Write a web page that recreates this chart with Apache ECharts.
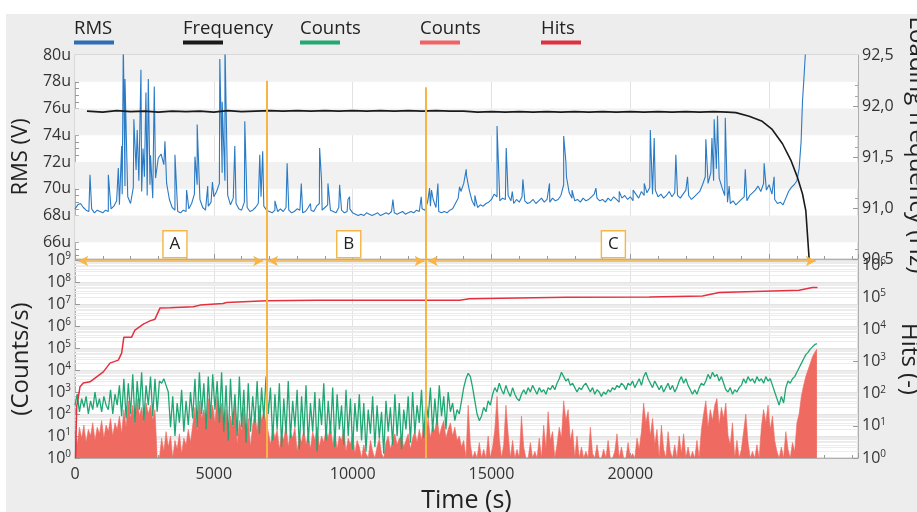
<!DOCTYPE html>
<html><head><meta charset="utf-8">
<script src="https://cdn.jsdelivr.net/npm/echarts@6/dist/echarts.min.js"></script>
<style>html,body{margin:0;padding:0;background:#fff}#c{width:917px;height:512px}</style>
</head><body><div id="c"></div>
<script>
// ---------------- DATA ----------------
const xMax = 28200;
const xTickLabels = [0, 5000, 10000, 15000, 20000, 25000];
const rmsTickLabels = [66, 68, 70, 72, 74, 76, 78, 80];

// RMS baseline (µV), one value every 100 s starting at t = 0
const rmsStep = 100;
const rmsBase = [
  68.5,68.8,68.9,68.6,68.4,68.3,68.5,68.2,68.4,68.3,
  68.2,68.4,68.3,68.5,68.7,69.1,68.8,69.6,70.2,69.4,
  68.9,70.1,71.4,70.6,69.8,70.9,69.5,70.3,69.3,70.8,
  72.3,72.6,71.8,70.4,69.2,68.6,68.4,68.3,68.2,68.4,
  68.3,68.5,68.9,69.6,70.3,69.2,68.6,68.4,68.7,69.0,
  69.4,69.8,70.4,71.2,70.6,69.5,68.8,69.3,68.9,68.5,
  68.4,69.0,68.6,68.3,68.4,68.6,68.9,69.4,68.7,68.4,
  68.3,68.2,68.4,68.3,68.5,68.3,68.6,68.4,68.2,68.3,
  68.5,68.4,68.2,68.3,68.6,68.4,68.3,68.7,68.9,68.4,
  68.6,68.8,68.4,68.3,68.2,68.6,68.4,68.2,68.3,68.5,
  68.2,68.1,68.0,68.1,68.0,68.2,68.1,68.0,68.1,68.2,
  68.0,68.1,68.2,68.1,68.3,68.2,68.1,68.2,68.3,68.1,
  68.2,68.3,68.2,68.4,68.3,68.5,68.4,69.0,68.7,69.2,
  68.6,68.3,68.2,68.3,68.2,68.4,68.5,68.9,69.3,69.8,
  70.4,71.0,69.9,69.1,68.7,68.6,68.8,68.7,68.9,69.0,
  69.2,69.6,69.4,69.1,69.3,69.2,69.5,69.1,68.9,69.2,
  69.0,69.4,69.1,68.9,69.0,69.2,68.9,69.1,69.3,69.0,
  69.2,69.0,69.3,69.1,69.2,69.5,70.3,70.9,69.7,69.3,
  69.1,69.2,69.0,69.3,69.1,69.2,69.4,69.6,69.3,69.1,
  69.2,69.0,69.3,69.1,69.4,69.2,69.0,69.3,69.5,69.2,
  69.4,69.1,69.6,69.3,69.8,69.5,69.7,70.1,69.6,69.9,
  69.4,69.6,69.3,69.5,69.8,69.4,69.7,69.5,69.3,69.6,
  69.9,69.5,69.2,69.4,69.6,69.8,70.3,70.9,70.4,71.2,
  70.6,71.5,70.8,70.1,69.5,69.0,68.9,69.1,68.8,69.0,
  69.2,69.4,69.1,69.5,69.7,69.9,70.2,69.8,70.4,69.9,
  70.3,69.6,69.2,68.9,69.0,68.8,69.3,69.8,70.1,70.3,
  70.6
];
// RMS spikes and final run-away, [time s, µV]
const rmsSpikes = [
  [540,71.05],[1200,71.05],[1560,71.55],[1680,73.2],[1740,81],[1800,78.2],[2120,75.2],[2240,74.4],
  [2375,78.9],[2450,73.0],[2555,77.2],[2640,78.2],[2720,72.5],[2855,77.65],[3240,73.55],[3600,72.55],
  [4020,69.9],[4320,72.4],[4400,74.8],[4780,70.2],[4950,70.5],[5215,79.7],[5300,76.5],[5400,81],
  [5450,81],[5755,73.2],[6115,75.05],[6655,72.55],[6760,72.8],[7200,69.1],[7640,71.9],[8150,70.4],
  [8480,68.9],[8810,73.05],[8880,70.6],[9110,70.4],[9530,70.3],[9830,69.2],[9890,69.4],[11450,69.2],
  [12470,69.4],[12770,70.05],[12840,69.9],[13070,70.4],[13850,70.15],[14090,71.45],[14400,69.5],
  [15200,74.7],[15530,73.05],[15750,69.8],[16130,70.7],[17090,70.4],[17600,73.95],[17680,72.0],
  [17900,69.9],[18760,70.05],[19600,69.8],[20100,69.9],[20500,70.4],[20720,74.4],[20860,73.8],
  [21640,72.55],[22060,70.9],[22720,73.7],[22940,73.8],[23020,75.2],[23140,75.45],[23420,75.3],
  [23560,70.2],[24140,71.45],[24820,71.9],[25180,70.9],
  [26080,71.5],[26150,73.5],[26200,76.5],[26260,78.5],[26330,81]
];
// Loading frequency (Hz), [time s, Hz]
const freqData = [
  [430,91.95],[1000,91.94],[1500,91.955],[2000,91.945],[2500,91.95],[3000,91.94],[3500,91.95],
  [4000,91.945],[4500,91.95],[5000,91.94],[5500,91.955],[6000,91.945],[6500,91.95],[7000,91.955],
  [7500,91.95],[8000,91.955],[8500,91.95],[9000,91.955],[9500,91.95],[10000,91.955],[10500,91.95],
  [11000,91.955],[11500,91.95],[12000,91.955],[12500,91.95],[13000,91.955],[13500,91.95],[14000,91.95],
  [14500,91.94],[15000,91.945],[15500,91.94],[16000,91.945],[16500,91.94],[17000,91.945],[17500,91.94],
  [18000,91.945],[18500,91.94],[19000,91.945],[19500,91.94],[20000,91.945],[20500,91.94],[21000,91.945],
  [21500,91.94],[22000,91.945],[22500,91.94],[23000,91.945],[23500,91.94],[23800,91.935],[24280,91.90],
  [24750,91.85],[25110,91.77],[25480,91.63],[25780,91.47],[26020,91.30],[26200,91.14],[26320,90.975],
  [26440,90.5]
];
// Cumulative hits, [time s, hits]
const hitsData = [
  [20,1],[60,39],[180,163],[300,213],[540,234],[780,334],[1020,477],[1260,890],[1560,1100],[1680,1820],
  [1760,5700],[2040,5700],[2160,9500],[2460,14500],[2700,18300],[2880,20700],[3060,45800],[3420,46500],
  [4260,50000],[4500,56600],[5330,63700],[5460,68500],[6900,76700],[8700,80800],[13850,80800],
  [14210,88600],[17690,99600],[20680,102000],[22600,109000],[23200,140000],[26080,165000],
  [26560,200000],[26740,200000]
];
// Counts/s (green), log10 values, one every 80 s
const countStep = 80;
const greenA_t0 = 0;
const greenA = [
  2.4,2.9,2.1,2.7,2.3,2.8,2.0,2.6,2.2,3.0,2.3,2.7,2.1,2.8,2.4,
  2.2,3.1,2.0,2.9,2.4,3.3,1.9,
  3.6,1.8,3.4,2.0,3.8,1.6,3.5,2.2,3.9,1.7,3.3,2.4,3.7,1.9,3.6,2.1,
  3.5,3.4,3.6,3.3,3.0,
  1.4,2.8,1.0,2.5,1.6,3.1,1.2,2.6,1.5,3.0,
  1.8,3.6,1.4,3.9,2.0,3.4,1.3,3.7,1.8,3.8,2.2,3.5,1.6,3.9,
  1.2,3.3,0.8,3.6,1.5,2.9,1.0,3.7,1.4,3.1,0.7,3.4,1.2,2.8,1.6,3.5,1.1,3.2,1.8,3.7,
  2.0,3.2,0.8,2.9,1.3,3.4,0.5,2.7,1.1,3.5,0.9,2.6,1.4,3.1,0.4,2.8,1.0,3.3,0.7,2.5,
  1.2,3.0,0.3,2.7,1.5,3.4,0.8,2.6,1.1,3.2,0.5,2.9,1.3,2.4,0.6,3.1,1.0,2.7,0.4,2.5,1.2,2.9,
  0.8,2.5,0.3,2.2,1.1,2.8,0.5,2.4,0.9,2.1,0.2,2.6,1.2,2.3,0.6,2.9,1.0,2.5,0.4,2.2,1.3,2.8,0.7,3.0,1.1,2.4,
  1.6,3.1,0.9,2.6,1.8,3.2,1.2,2.7,1.5,3.3,1.9,2.8,1.3,3.0,2.1,2.5,1.7,2.2
];
const greenB_t0 = 13840;
const greenB = [
  2.0,2.6,3.2,3.6,3.85,3.7,3.2,2.6,2.0,1.7,
  1.9,2.3,2.1,2.6,2.4,2.9,3.2,3.0,3.4,3.1,
  2.9,3.3,3.0,2.8,3.2,2.9,2.7
];
const greenC_t0 = 16000;
const greenC = [
  2.6,2.9,3.1,2.9,3.2,3.0,3.3,3.1,2.9,3.2,
  3.0,3.1,2.9,3.2,3.1,3.3,3.1,3.4,3.6,3.9,
  3.7,3.5,3.6,3.3,3.4,3.2,3.0,3.2,3.1,3.3,
  3.4,3.2,3.0,3.2,2.9,3.1,3.0,2.8,3.0,2.9,
  3.1,3.0,3.2,3.1,3.3,3.2,3.4,3.3,3.1,3.4,
  3.3,3.5,3.2,3.4,3.6,3.3,3.7,3.9,3.6,3.4,
  3.2,3.5,3.3
];
const greenD_t0 = 21040;
const greenD = [
  3.1,3.3,3.0,3.2,3.4,3.1,3.3,3.0,3.2,3.5,
  3.7,3.4,3.6,3.3,3.1,2.9,3.1,2.9,3.2,3.4,
  3.3,3.5,3.8,3.6,3.9,3.7,3.8,3.5,3.7,3.4,
  3.1,3.0,3.2,2.9,3.1,3.0,3.2,3.3,3.6,3.4,
  3.7,3.5,3.6,3.4,3.7,3.5,3.6,3.4,3.7,3.5,
  3.6,3.3,3.0,2.7,2.4,2.8,2.5,3.2,3.5,3.4,
  3.6,3.7,3.9,4.1,4.3,4.5,4.7,4.8,4.95,5.05,
  5.15,5.2
];
// Counts/s (salmon), log10 values, one every 80 s (0 = no counts)
const salA_t0 = 0;
const salA = [
  1.2,0.6,1.4,0.9,1.5,0.7,1.3,1.0,1.6,0.8,1.4,1.1,1.7,0.9,1.5,1.2,1.8,1.0,1.6,1.3,1.9,1.1,
  2.2,1.4,2.6,1.8,2.4,1.5,2.7,1.9,2.3,1.6,2.5,2.0,2.4,1.7,2.2,
  0,0,
  0.9,0.3,1.2,0.5,1.0,0,0.8,0.4,1.1,0.2,0.9,0.6,1.3,0.7,
  1.5,2.3,1.2,2.6,1.8,2.2,1.4,2.7,1.9,2.4,1.6,2.8,2.1,2.5,
  1.3,2.2,0.8,1.9,1.4,2.5,0.6,1.7,1.2,2.3,0.9,1.8,0.5,1.5,2.0,1.2,2.4,1.7,2.1,1.6,
  1.2,0.6,1.4,0.9,1.3,0.4,1.1,0.8,1.5,0.5,1.2,0.9,1.4,0.3,1.0,0.7,1.3,0.6,1.1,0.4,
  1.2,0.8,1.4,0.5,1.0,0.7,1.3,0.9,1.5,0.6,1.2,0.4,1.0,0.8,1.3,0.3,0.9,0.6,1.1,0.2,0.8,0.5,
  0,0.6,0.2,0,0.8,0.3,0,0.5,0.9,0.2,0,0.7,1.0,0.4,0.8,1.1,0.6,0.9,1.0,0.5,0.8,1.1,0.4,0.9,1.2,0.7,
  1.3,0.8,1.6,1.1,1.8,0.9,1.5,1.2,1.9,1.0,1.4,1.7,0.9,1.3,1.6,1.0,1.4,0.8
];
const salB_t0 = 13840;
const salB = [
  1.0,0.5,0.8,0,2.4,0.6,0,0.3,0,0.7,
  0,0.4,0,1.0,0,0.5,1.3,2.8,0.9,0,
  0.6,2.4,1.1,0,0.8,0,0.4,0,1.9,0.5,
  0,0,0.7,0,0.3,0,0.9,0,1.5,0.4,
  2.1,0.8,1.2,0,0.6,1.4,0.9,2.6,1.7,2.2,
  0.8,1.3,0,1.0,0,0.5,0,0.3,0,1.4,
  0.2,0,0.6,0,0,0.4,0,0.8,0,0,
  0.3,1.1,0,0.5,0,0,0.7,0,0.2,0,
  0.9,0.4,1.2,2.5,1.6,2.1,1.0,1.8,0.6,1.3,
  0,1.5,0.4,0,1.2,0.3,0,0.6,0,1.0,
  0.2,1.1,0,0.5,0,0.3,0,0.8,0,1.3,
  2.0,2.6,1.4,2.2,1.7,2.4,2.7,1.5,2.3,1.8,
  2.5,1.0,0.6,1.6,0,0.8,0,0.4,1.2,2.0,
  0.7,0,0.3,0,0.6,0,1.4,2.2,1.6,2.4,
  1.3,1.9,0.8,0.3,0,0.5,0,1.2,0.4,0,
  0.7,0.3,1.6,2.0,2.8,3.3,3.7,4.0,4.3,4.6,
  4.8,4.95
];
// Phase annotations
const phaseBounds = [6900, 12650];
const phaseLineTop = [78.08, 77.58];
const phaseArrows = [[120, 6775], [6955, 12590], [12710, 26680]];
const phaseNames = ['A', 'B', 'C'];
const phaseLabelT = [3600, 9860, 19390];

// ---------------- BUILD ----------------
const FF = "'Open Sans','Noto Sans',sans-serif";
const rmsData = rmsBase.map((v, i) => [i * rmsStep, v]).concat(rmsSpikes).sort((a, b) => a[0] - b[0]);
const fromLog = (arr, t0) => arr.map((e, i) => [t0 + i * countStep, Math.pow(10, e)]);
const greenData = fromLog(greenA, greenA_t0).concat(fromLog(greenB, greenB_t0), fromLog(greenC, greenC_t0), fromLog(greenD, greenD_t0));
const salData = fromLog(salA, salA_t0).concat(fromLog(salB, salB_t0));

const supLabel = v => '{b|10}{s|' + Math.round(Math.log10(v)) + '}';
const richSup = { b: { fontSize: 16, color: '#333', fontFamily: FF }, s: { fontSize: 10, color: '#333', fontFamily: FF, verticalAlign: 'top', padding: [0, 0, 8, 0] } };

const minorLines = [];
for (let k = 0; k < 9; k++) for (let m = 2; m <= 9; m++) minorLines.push({ yAxis: m * Math.pow(10, k) });

const topTicks = [];
for (let v = 65; v <= 80; v += 0.5) topTicks.push(v);

function mkLegend(name, label, color, left) {
  return {
    data: [name], left: left, top: 19, icon: 'none', itemWidth: 0, itemHeight: 0, itemGap: 0,
    selectedMode: false, padding: 0,
    formatter: () => '{t|' + label + '}\n{u|}',
    textStyle: { padding: 0, rich: { t: { fontSize: 18.5, color: '#222', fontFamily: FF, lineHeight: 24 }, u: { width: 40, height: 4, backgroundColor: color } } }
  };
}
const orange = '#f6b545';
const nameStyle = { fontSize: 23, color: '#222', fontFamily: FF };

const option = {
  animation: false,
  graphic: [{ type: 'rect', shape: { x: 6, y: 14, width: 911, height: 498 }, style: { fill: '#ededed' }, z: -10, silent: true }],
  legend: [
    mkLegend('RMS', 'RMS', '#2f6db5', 69),
    mkLegend('Frequency', 'Frequency', '#1a1a1a', 178),
    mkLegend('Counts', 'Counts', '#23a872', 295),
    mkLegend('Counts ', 'Counts', '#ee6462', 415),
    mkLegend('Hits', 'Hits', '#e03040', 536)
  ],
  grid: [
    { left: 75, right: 59, top: 55, height: 204, outerBoundsMode: 'none', containLabel: false, show: true, backgroundColor: '#fff', borderColor: '#c4c4c4', borderWidth: 1 },
    { left: 75, right: 59, top: 260, height: 198, outerBoundsMode: 'none', containLabel: false, show: true, backgroundColor: '#fff', borderColor: '#c4c4c4', borderWidth: 1 }
  ],
  xAxis: [
    { gridIndex: 0, type: 'value', min: 0, max: xMax, interval: 5000,
      axisLabel: { show: false }, axisLine: { lineStyle: { color: '#b0b0b0' } },
      axisTick: { inside: true, length: 5, lineStyle: { color: '#999' } },
      minorTick: { show: true, splitNumber: 5, length: 3, lineStyle: { color: '#999' } },
      splitLine: { show: true, lineStyle: { color: '#e2e2e2' } } },
    { gridIndex: 1, type: 'value', min: 0, max: xMax, interval: 5000,
      name: 'Time (s)', nameLocation: 'middle', nameGap: 30, nameTextStyle: { fontSize: 25, color: '#222', fontFamily: FF },
      axisLabel: { fontSize: 16, color: '#333', fontFamily: FF, showMaxLabel: false, margin: 8, customValues: xTickLabels, formatter: v => String(v) },
      axisLine: { lineStyle: { color: '#b0b0b0' } },
      axisTick: { inside: true, length: 5, lineStyle: { color: '#999' } },
      minorTick: { show: true, splitNumber: 5, length: 3, lineStyle: { color: '#999' } },
      splitLine: { show: true, lineStyle: { color: '#e2e2e2' } } }
  ],
  yAxis: [
    { gridIndex: 0, type: 'value', position: 'left', min: 64.75, max: 80,
      name: 'RMS (V)', nameLocation: 'middle', nameGap: 42, nameTextStyle: { fontSize: 22, color: '#222', fontFamily: FF },
      axisLine: { show: true, lineStyle: { color: '#b0b0b0' } },
      axisLabel: { customValues: rmsTickLabels, formatter: v => v + 'u', fontSize: 16, color: '#333', fontFamily: FF, margin: 4 },
      axisTick: { show: true, customValues: topTicks, inside: true, length: 4, lineStyle: { color: '#999' } },
      splitLine: { show: false } },
    { gridIndex: 0, type: 'value', position: 'right', min: 90.5, max: 92.5, interval: 0.5,
      name: 'Loading frequency (Hz)', nameLocation: 'middle', nameGap: 36, nameRotate: -90,
      nameTextStyle: Object.assign({}, nameStyle, { fontSize: 24, padding: [0, 24, 0, 0] }),
      axisLine: { show: true, lineStyle: { color: '#b0b0b0' } },
      axisLabel: { formatter: v => v.toFixed(1).replace('.', ','), fontSize: 16, color: '#333', fontFamily: FF, margin: 4 },
      axisTick: { inside: true, length: 5, lineStyle: { color: '#999' } },
      minorTick: { show: true, splitNumber: 5, length: 3, lineStyle: { color: '#aaa' } },
      splitLine: { show: false } },
    { gridIndex: 1, type: 'log', logBase: 10, position: 'left', min: 1, max: 1e9, splitNumber: 9,
      name: '(Counts/s)', nameLocation: 'middle', nameGap: 42, nameTextStyle: Object.assign({}, nameStyle, { fontSize: 24 }),
      axisLine: { show: true, lineStyle: { color: '#b0b0b0' } },
      axisLabel: { formatter: supLabel, rich: richSup, margin: 4 },
      axisTick: { inside: true, length: 5, lineStyle: { color: '#999' } },
      splitLine: { show: true, lineStyle: { color: '#e4e4e4' } } },
    { gridIndex: 1, type: 'log', logBase: 10, position: 'right', min: 1, max: 1.43e6, splitNumber: 6,
      name: 'Hits (-)', nameLocation: 'middle', nameGap: 36, nameRotate: -90,
      nameTextStyle: Object.assign({}, nameStyle, { fontSize: 24 }),
      axisLine: { show: true, lineStyle: { color: '#b0b0b0' } },
      axisLabel: { formatter: supLabel, rich: richSup, margin: 4, showMaxLabel: false },
      axisTick: { inside: true, length: 5, lineStyle: { color: '#999' } },
      splitLine: { show: false } }
  ],
  series: [
    { name: 'bandsTop', type: 'line', xAxisIndex: 0, yAxisIndex: 0, data: [], silent: true, z: 1,
      markArea: { silent: true, z: 1, itemStyle: { color: '#f1f1f1' },
        data: [[{ yAxis: 78 }, { yAxis: 80 }], [{ yAxis: 74 }, { yAxis: 76 }], [{ yAxis: 70 }, { yAxis: 72 }], [{ yAxis: 66 }, { yAxis: 68 }]] } },
    { name: 'RMS', type: 'line', xAxisIndex: 0, yAxisIndex: 0, data: rmsData, showSymbol: false, symbol: 'none', z: 3,
      lineStyle: { color: '#2a7ac4', width: 1.1 }, itemStyle: { color: '#2f6db5' },
      markLine: { silent: true, z: 6, symbol: 'none', label: { show: false }, lineStyle: { color: orange, width: 2, type: 'solid' },
        data: phaseBounds.map((t, i) => [{ coord: [t, phaseLineTop[i]] }, { coord: [t, 64.75] }]) },
      markPoint: { silent: true, z: 7, symbol: 'rect', symbolSize: [24, 27],
        itemStyle: { color: '#fff', borderColor: orange, borderWidth: 1.5 },
        label: { show: true, formatter: '{b}', color: '#222', fontSize: 17, fontFamily: FF },
        data: phaseNames.map((n, i) => ({ name: n, coord: [phaseLabelT[i], 65.85] })) } },
    { name: 'Frequency', type: 'line', xAxisIndex: 0, yAxisIndex: 1, data: freqData, showSymbol: false, symbol: 'none', z: 4,
      lineStyle: { color: '#1a1a1a', width: 1.6 }, itemStyle: { color: '#1a1a1a' } },
    { name: 'minorGrid', type: 'line', xAxisIndex: 1, yAxisIndex: 2, data: [], silent: true, z: 1,
      markLine: { silent: true, z: 1, symbol: 'none', label: { show: false }, lineStyle: { color: '#ececec', width: 1, type: 'solid' }, data: minorLines } },
    { name: 'Counts ', type: 'line', xAxisIndex: 1, yAxisIndex: 2, data: salData, showSymbol: false, symbol: 'none', z: 2,
      lineStyle: { color: '#ef6a60', width: 0.6 }, areaStyle: { color: '#ef6a60', opacity: 1 }, itemStyle: { color: '#ee6462' } },
    { name: 'Counts', type: 'line', xAxisIndex: 1, yAxisIndex: 2, data: greenData, showSymbol: false, symbol: 'none', z: 3,
      lineStyle: { color: '#1fa673', width: 1.3 }, itemStyle: { color: '#23a872' } },
    { name: 'Hits', type: 'line', xAxisIndex: 1, yAxisIndex: 3, data: hitsData, showSymbol: false, symbol: 'none', z: 4,
      lineStyle: { color: '#e5303f', width: 1.5 }, itemStyle: { color: '#e03040' } },
    { name: 'phases', type: 'line', xAxisIndex: 1, yAxisIndex: 2, data: [], silent: true, z: 6,
      markLine: { silent: true, z: 6, label: { show: false }, lineStyle: { color: orange, width: 2, type: 'solid' }, symbol: 'none',
        data: phaseBounds.map(t => [{ coord: [t, 1] }, { coord: [t, 1e9] }]) } },
    { name: 'arrows', type: 'line', xAxisIndex: 1, yAxisIndex: 2, data: [], silent: true, z: 6,
      markLine: { silent: true, z: 6, label: { show: false }, lineStyle: { color: orange, width: 1.5, type: 'solid' },
        symbol: ['arrow', 'arrow'], symbolSize: [8, 10],
        data: phaseArrows.map(a => [{ coord: [a[0], 9e8] }, { coord: [a[1], 9e8] }]) } }
  ]
};
const chart = echarts.init(document.getElementById('c'), null, { renderer: 'canvas' });
chart.setOption(option);
</script></body></html>
